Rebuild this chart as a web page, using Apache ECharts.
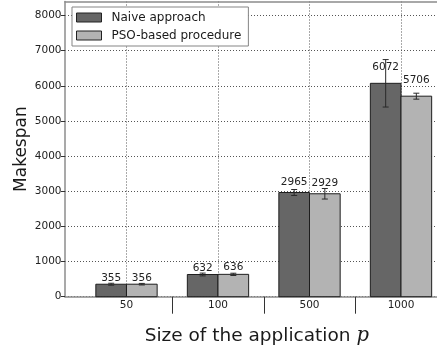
<!DOCTYPE html>
<html>
<head>
<meta charset="utf-8">
<script src="https://cdn.jsdelivr.net/npm/echarts@6/dist/echarts.min.js"></script>
<style>
  html, body { margin: 0; padding: 0; background: #fff; }
  #chart { width: 437px; height: 349px; }
</style>
</head>
<body>
<div id="chart"></div>
<script>
// Application sizes (x categories)
const categories = ['50', '100', '500', '1000'];

// Mean makespan and error-bar half-widths for each approach
const naiveMean = [355, 632, 2965, 6072];
const naiveErr  = [28, 40, 85, 675];
const psoMean   = [356, 636, 2929, 5706];
const psoErr    = [22, 32, 150, 85];

// Y tick values
const yTicks = [0, 1000, 2000, 3000, 4000, 5000, 6000, 7000, 8000];

const FONT = '"DejaVu Sans", "Liberation Sans", sans-serif';
const BAR_W = 0.335;        // bar width in category units
const LABEL_LIFT = 1.05;    // value labels sit just above 105% of the bar height
const PAD = 0.672;          // x-axis padding on each side, in category units

const centers = categories.map((_, i) => i);
const boundaries = categories.slice(1).map((_, i) => i + 0.5);

function toData(means, errs) {
  return means.map((m, i) => [i, m, errs[i]]);
}

// Draws one bar with its error bar and value label; shift picks left/right slot
function barRenderer(shift) {
  return function (params, api) {
    const idx = api.value(0), mean = api.value(1), err = api.value(2);
    const left = idx + shift;
    const pBase = api.coord([left, 0]);
    const pTop = api.coord([left + BAR_W, mean]);
    const cx = api.coord([left + BAR_W / 2, mean])[0];
    const yHi = api.coord([idx, mean + err])[1];
    const yLo = api.coord([idx, mean - err])[1];
    const yLab = api.coord([idx, mean * LABEL_LIFT])[1];
    const capHalf = 3;
    const errStyle = { stroke: '#2a2a2a', lineWidth: 1 };
    return {
      type: 'group',
      children: [
        {
          type: 'rect',
          shape: { x: pBase[0], y: pTop[1], width: pTop[0] - pBase[0], height: pBase[1] - pTop[1] },
          style: { fill: api.visual('color'), stroke: '#1e1e1e', lineWidth: 1 }
        },
        { type: 'line', shape: { x1: cx, y1: yHi, x2: cx, y2: yLo }, style: errStyle },
        { type: 'line', shape: { x1: cx - capHalf, y1: yHi, x2: cx + capHalf, y2: yHi }, style: errStyle },
        { type: 'line', shape: { x1: cx - capHalf, y1: yLo, x2: cx + capHalf, y2: yLo }, style: errStyle },
        {
          type: 'text',
          x: cx, y: yLab,
          style: {
            text: String(mean), fill: '#222',
            fontSize: 10.5, fontFamily: FONT,
            align: 'center', verticalAlign: 'bottom'
          }
        }
      ]
    };
  };
}

const axisGray = '#8c8c8c';
const gridDots = { color: '#555', width: 1, type: [1, 2] };

const option = {
  animation: false,
  backgroundColor: '#fff',
  grid: { left: 65, right: -25.5, top: 1.5, bottom: 52.3, outerBoundsMode: 'none', containLabel: false },
  legend: {
    orient: 'vertical',
    left: 72, top: 7,
    padding: [4.5, 7, 4.5, 4],
    itemGap: 6,
    itemWidth: 25, itemHeight: 9,
    icon: 'rect',
    backgroundColor: '#fff',
    borderColor: '#858585', borderWidth: 1, borderRadius: 0,
    textStyle: { fontSize: 12, fontFamily: FONT, color: '#1a1a1a', padding: [0, 0, 0, 5] },
    data: [
      { name: 'Naive approach', itemStyle: { color: '#666666', borderColor: '#222', borderWidth: 1 } },
      { name: 'PSO-based procedure', itemStyle: { color: '#b3b3b3', borderColor: '#222', borderWidth: 1 } }
    ]
  },
  xAxis: [
    {
      type: 'value',
      min: -PAD, max: categories.length - 1 + PAD,
      position: 'bottom',
      axisLine: { show: true, onZero: false, lineStyle: { color: axisGray, width: 1.5 } },
      axisTick: { show: true, inside: false, length: 17, customValues: boundaries, lineStyle: { color: '#333', width: 1 } },
      axisLabel: {
        customValues: centers,
        formatter: v => categories[Math.round(v)],
        margin: 3, fontSize: 10.5, fontFamily: FONT, color: '#222'
      },
      splitLine: { show: false },
      name: '{t|Size of the application }{m|p}',
      nameLocation: 'middle',
      nameGap: 29,
      nameTextStyle: {
        padding: [0, 14, 0, 0],
        rich: {
          t: { fontSize: 18.5, fontFamily: FONT, color: '#1a1a1a' },
          m: { fontSize: 19.5, fontFamily: '"DejaVu Serif", "Liberation Serif", serif', fontStyle: 'italic', color: '#1a1a1a' }
        }
      }
    },
    {
      type: 'value',
      min: -PAD, max: categories.length - 1 + PAD,
      position: 'top',
      axisLine: { show: true, onZero: false, lineStyle: { color: axisGray, width: 1.5 } },
      axisTick: { show: false, customValues: centers },
      axisLabel: { show: false },
      splitLine: { show: true, lineStyle: gridDots }
    }
  ],
  yAxis: {
    type: 'value',
    min: 0, max: 8400,
    position: 'left',
    axisLine: { show: true, onZero: false, lineStyle: { color: axisGray, width: 1.5 } },
    axisTick: { show: true, inside: false, length: 4, customValues: yTicks, lineStyle: { color: '#333' } },
    axisLabel: {
      customValues: yTicks,
      formatter: v => String(v),
      margin: 3.5, fontSize: 10.5, fontFamily: FONT, color: '#222'
    },
    splitLine: { show: true, lineStyle: gridDots },
    name: 'Makespan',
    nameLocation: 'middle',
    nameGap: 35,
    nameMoveOverlap: false,
    nameTextStyle: { fontSize: 17, fontFamily: FONT, color: '#1a1a1a' }
  },
  series: [
    {
      name: 'Naive approach',
      type: 'custom',
      xAxisIndex: 0,
      itemStyle: { color: '#666666' },
      encode: { x: 0, y: 1 },
      renderItem: barRenderer(-BAR_W),
      data: toData(naiveMean, naiveErr),
      z: 3
    },
    {
      name: 'PSO-based procedure',
      type: 'custom',
      xAxisIndex: 0,
      itemStyle: { color: '#b3b3b3' },
      encode: { x: 0, y: 1 },
      renderItem: barRenderer(0),
      data: toData(psoMean, psoErr),
      z: 3
    }
  ]
};

const chart = echarts.init(document.getElementById('chart'), null, { renderer: 'canvas' });
chart.setOption(option);
</script>
</body>
</html>
